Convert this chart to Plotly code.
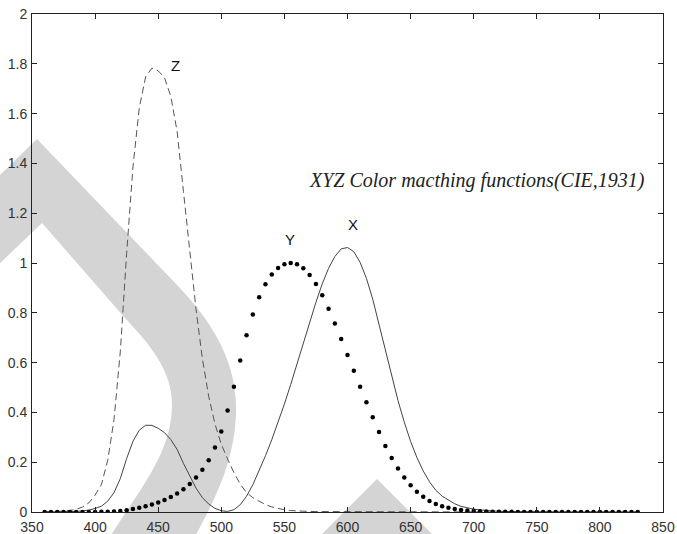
import plotly.graph_objects as go

# CIE 1931 2-degree colour matching functions, 5 nm steps (360-830 nm)
wavelength = list(range(360, 835, 5))

x_bar = [0.0001299, 0.0002321, 0.0004149, 0.0007416,
         0.001368, 0.002236, 0.004243, 0.00765, 0.01431, 0.02319, 0.04351, 0.07763,
         0.13438, 0.21477, 0.2839, 0.3285, 0.34828, 0.34806, 0.3362, 0.3187,
         0.2908, 0.2511, 0.19536, 0.1421, 0.09564, 0.05795, 0.03201, 0.0147,
         0.0049, 0.0024, 0.0093, 0.0291, 0.06327, 0.1096, 0.1655, 0.22575,
         0.2904, 0.3597, 0.43345, 0.51205, 0.5945, 0.6784, 0.7621, 0.8425,
         0.9163, 0.9786, 1.0263, 1.0567, 1.0622, 1.0456, 1.0026, 0.9384,
         0.85445, 0.7514, 0.6424, 0.5419, 0.4479, 0.3608, 0.2835, 0.2187,
         0.1649, 0.1212, 0.0874, 0.0636, 0.04677, 0.0329, 0.0227, 0.01584,
         0.011359, 0.008111, 0.00579, 0.004109, 0.002899, 0.002049, 0.00144, 0.001,
         0.00069, 0.000476, 0.000332, 0.000235, 0.000166, 0.000117, 0.000083, 0.000059,
         0.000042, 0.000029, 0.0000206, 0.0000146, 0.0000103, 0.0000073, 0.0000052,
         0.0000036, 0.0000026, 0.0000018, 0.0000013]

y_bar = [0.0000039, 0.000007, 0.0000124, 0.000022,
         0.000039, 0.000064, 0.00012, 0.000217, 0.000396, 0.00064, 0.00121, 0.00218,
         0.004, 0.0073, 0.0116, 0.01684, 0.023, 0.0298, 0.038, 0.048,
         0.06, 0.0739, 0.09098, 0.1126, 0.13902, 0.1693, 0.20802, 0.2586,
         0.323, 0.4073, 0.503, 0.6082, 0.71, 0.7932, 0.862, 0.91485,
         0.954, 0.9803, 0.99495, 1.0, 0.995, 0.9786, 0.952, 0.9154,
         0.87, 0.8163, 0.757, 0.6949, 0.631, 0.5668, 0.503, 0.4412,
         0.381, 0.321, 0.265, 0.217, 0.175, 0.1382, 0.107, 0.0816,
         0.061, 0.04458, 0.032, 0.0232, 0.017, 0.01192, 0.00821, 0.005723,
         0.004102, 0.002929, 0.002091, 0.001484, 0.001047, 0.00074, 0.00052, 0.000361,
         0.000249, 0.000172, 0.00012, 0.000085, 0.00006, 0.000042, 0.00003, 0.000021,
         0.000015, 0.0000105, 0.0000074, 0.0000053, 0.0000037, 0.0000026, 0.0000019,
         0.0000013, 0.0000009, 0.0000006, 0.0000005]

z_bar = [0.0006061, 0.001086, 0.001946, 0.003486,
         0.00645, 0.01055, 0.02005, 0.03621, 0.06785, 0.1102, 0.2074, 0.3713,
         0.6456, 1.03905, 1.3856, 1.62296, 1.74706, 1.7826, 1.77211, 1.7441,
         1.6692, 1.5281, 1.28764, 1.0419, 0.81295, 0.6162, 0.46518, 0.3533,
         0.272, 0.2123, 0.1582, 0.1117, 0.07825, 0.05725, 0.04216, 0.02984,
         0.0203, 0.0134, 0.00875, 0.00575, 0.0039, 0.00275, 0.0021, 0.0018,
         0.00165, 0.0014, 0.0011, 0.001, 0.0008, 0.0006, 0.00034, 0.00024,
         0.00019, 0.0001, 0.00005, 0.00003, 0.00002, 0.00001] + [0.0] * 37

x_ticks = [350, 400, 450, 500, 550, 600, 650, 700, 750, 800, 850]
y_ticks = [0, 0.2, 0.4, 0.6, 0.8, 1, 1.2, 1.4, 1.6, 1.8, 2]
y_tick_text = ["0", "0.2", "0.4", "0.6", "0.8", "1", "1.2", "1.4", "1.6", "1.8", "2"]

W, H = 677, 534
ML, MR, MT, MB = 32, 14, 14, 22
PW, PH = W - ML - MR, H - MT - MB


def px(x, y):
    return (x - ML) / PW, (H - MB - y) / PH


def path(cmds):
    out = []
    for c in cmds:
        if isinstance(c, str):
            out.append(c)
        else:
            a, b = px(*c)
            out.append(f"{a:.5f},{b:.5f}")
    return " ".join(out)


band = path(["M", (-5, 180), "L", (37, 139), "L", (178, 286),
             "C", (215, 325), (238, 365), (236, 415),
             "C", (234, 462), (215, 500), (193, 540),
             "L", (108, 540),
             "C", (135, 495), (172, 455), (172, 405),
             "C", (172, 370), (150, 345), (125, 318),
             "L", (42, 223), "L", (-5, 268), "Z"])
tri = path(["M", (316, 540), "L", (377, 479), "L", (438, 540), "Z"])

fig = go.Figure()
fig.add_trace(go.Scatter(x=wavelength, y=z_bar, mode="lines",
                         line=dict(color="#555555", width=1, dash="7px,4px")))
fig.add_trace(go.Scatter(x=wavelength, y=x_bar, mode="lines",
                         line=dict(color="#444444", width=1)))
fig.add_trace(go.Scatter(x=wavelength, y=y_bar, mode="markers",
                         marker=dict(color="black", size=4.5)))

for p in (band, tri):
    fig.add_shape(type="path", path=p, xref="paper", yref="paper",
                  fillcolor="#d4d4d4", line=dict(width=0), layer="below")

lab = dict(family="Arial, Liberation Sans, sans-serif", size=15, color="#111111")
fig.add_annotation(x=463.5, y=1.795, text="Z", showarrow=False, font=lab)
fig.add_annotation(x=554.5, y=1.095, text="Y", showarrow=False, font=lab)
fig.add_annotation(x=604, y=1.155, text="X", showarrow=False, font=lab)
fig.add_annotation(x=703, y=1.33, text="XYZ Color macthing functions(CIE,1931)",
                   showarrow=False,
                   font=dict(family="Liberation Serif, Times New Roman, serif",
                             size=20, color="#222222", style="italic"))

axis_common = dict(showline=True, linecolor="#222222", linewidth=1, mirror="ticks",
                   ticks="inside", ticklen=5, tickcolor="#222222", showgrid=False,
                   zeroline=False, automargin=False,
                   tickfont=dict(family="Arial, Liberation Sans, sans-serif",
                                 size=14, color="#333333"))
fig.update_xaxes(range=[350, 850], tickvals=x_ticks, ticklabelstandoff=2,
                 **axis_common)
fig.update_yaxes(range=[0, 2], tickvals=y_ticks, ticktext=y_tick_text,
                 ticklabelstandoff=1, **axis_common)

fig.update_layout(width=W, height=H, showlegend=False,
                  margin=dict(l=ML, r=MR, t=MT, b=MB, pad=0),
                  paper_bgcolor="white", plot_bgcolor="white")

fig.write_html("out.html", config={"displayModeBar": False},
               post_script="document.body.style.margin='0';"
                           "document.body.style.padding='0';"
                           "document.body.style.overflow='hidden';")
